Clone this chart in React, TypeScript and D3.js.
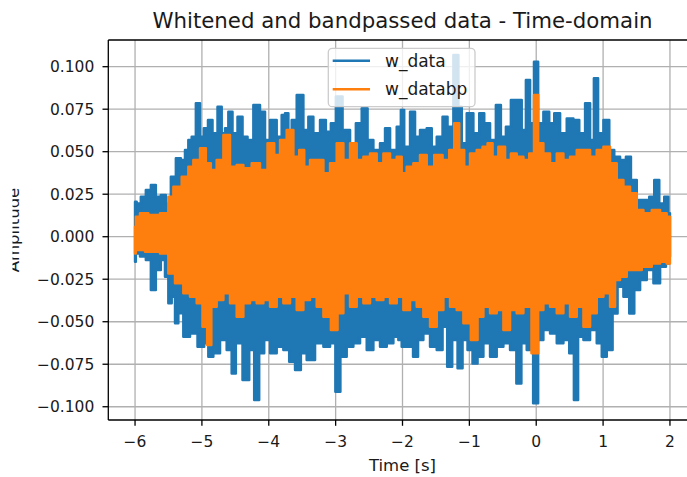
import React from "react";
import * as d3 from "d3";

const title = "Whitened and bandpassed data - Time-domain";
const xLabel = "Time [s]";
const yLabel = "Amplitude";
const seriesNames = ["w_data", "w_databp"];
const xTicks = [-6, -5, -4, -3, -2, -1, 0, 1, 2];
const yTicks = [-0.1, -0.075, -0.05, -0.025, 0, 0.025, 0.05, 0.075, 0.1];

// Envelope of w_data (upper edge), [time s, amplitude]
const blueUpper: [number, number][] = [
  [-6.0, 0.0206], [-5.951, 0.0196], [-5.876, 0.0235], [-5.801, 0.0275], [-5.726, 0.0304],
  [-5.652, 0.0235], [-5.577, 0.0245], [-5.502, 0.0196], [-5.427, 0.0353], [-5.352, 0.0461],
  [-5.278, 0.0451], [-5.228, 0.051], [-5.178, 0.0569], [-5.128, 0.0588], [-5.053, 0.0785],
  [-5.003, 0.0588], [-4.939, 0.0638], [-4.879, 0.0686], [-4.804, 0.0608], [-4.729, 0.0765],
  [-4.679, 0.0608], [-4.629, 0.0638], [-4.58, 0.0735], [-4.505, 0.0608], [-4.43, 0.0706],
  [-4.355, 0.0588], [-4.28, 0.0569], [-4.181, 0.0775], [-4.081, 0.0735], [-4.031, 0.0569],
  [-3.931, 0.0686], [-3.832, 0.0588], [-3.782, 0.0716], [-3.732, 0.0726], [-3.682, 0.0588],
  [-3.632, 0.0686], [-3.532, 0.0834], [-3.433, 0.0628], [-3.383, 0.0706], [-3.283, 0.0608],
  [-3.183, 0.0686], [-3.109, 0.0618], [-3.034, 0.0667], [-2.959, 0.0824], [-2.834, 0.0628],
  [-2.735, 0.051], [-2.66, 0.0667], [-2.56, 0.0755], [-2.485, 0.0569], [-2.386, 0.051],
  [-2.286, 0.0549], [-2.236, 0.0638], [-2.136, 0.051], [-2.037, 0.0647], [-2.012, 0.0745],
  [-1.937, 0.0529], [-1.837, 0.0735], [-1.788, 0.0588], [-1.688, 0.0628], [-1.588, 0.0638],
  [-1.538, 0.0529], [-1.438, 0.0588], [-1.364, 0.0706], [-1.289, 0.0647], [-1.189, 0.1069],
  [-1.139, 0.0765], [-1.089, 0.0549], [-0.99, 0.0726], [-0.89, 0.0608], [-0.815, 0.0726],
  [-0.74, 0.0667], [-0.641, 0.0569], [-0.566, 0.0775], [-0.491, 0.0588], [-0.416, 0.0647],
  [-0.342, 0.0804], [-0.242, 0.0804], [-0.192, 0.0628], [-0.117, 0.0922], [-0.067, 0.0667],
  [0.0, 0.1029], [0.057, 0.0667], [0.157, 0.0735], [0.232, 0.0667], [0.307, 0.0726],
  [0.407, 0.0608], [0.506, 0.0696], [0.606, 0.0686], [0.681, 0.0608], [0.781, 0.0785],
  [0.83, 0.0569], [0.895, 0.0932], [0.955, 0.0608], [1.055, 0.0686], [1.13, 0.051],
  [1.204, 0.0471], [1.304, 0.0451], [1.379, 0.0471], [1.454, 0.0333], [1.553, 0.0216],
  [1.653, 0.0216], [1.728, 0.0235], [1.803, 0.0333], [1.877, 0.0196], [1.952, 0.0235],
  [2.0, 0.0138],
];

// Envelope of w_data (lower edge)
const blueLower: [number, number][] = [
  [-6.0, -0.0147], [-5.976, -0.0098], [-5.876, -0.0117], [-5.801, -0.0137], [-5.726, -0.0314],
  [-5.652, -0.0196], [-5.577, -0.0137], [-5.527, -0.0235], [-5.477, -0.0392], [-5.427, -0.0353],
  [-5.377, -0.0509], [-5.328, -0.045], [-5.228, -0.0588], [-5.128, -0.0569], [-5.003, -0.0647],
  [-4.929, -0.0627], [-4.879, -0.0706], [-4.779, -0.0686], [-4.679, -0.0608], [-4.58, -0.0666],
  [-4.53, -0.0804], [-4.455, -0.0627], [-4.33, -0.0843], [-4.255, -0.0666], [-4.181, -0.0961],
  [-4.106, -0.0686], [-4.031, -0.0608], [-3.931, -0.0686], [-3.832, -0.0647], [-3.732, -0.0666],
  [-3.657, -0.0735], [-3.557, -0.0784], [-3.483, -0.0686], [-3.383, -0.0725], [-3.233, -0.0627],
  [-3.133, -0.0647], [-3.034, -0.0627], [-2.974, -0.0912], [-2.884, -0.0706], [-2.785, -0.0647],
  [-2.685, -0.0627], [-2.585, -0.0588], [-2.485, -0.0666], [-2.386, -0.0608], [-2.286, -0.0647],
  [-2.186, -0.0627], [-2.087, -0.0588], [-2.037, -0.0608], [-1.987, -0.0647], [-1.887, -0.0647],
  [-1.797, -0.0706], [-1.738, -0.0608], [-1.638, -0.0569], [-1.538, -0.0647], [-1.438, -0.0666],
  [-1.364, -0.0529], [-1.299, -0.0765], [-1.214, -0.0608], [-1.139, -0.0774], [-1.065, -0.0608],
  [-0.99, -0.0666], [-0.915, -0.0745], [-0.84, -0.0706], [-0.74, -0.0627], [-0.641, -0.0706],
  [-0.541, -0.0647], [-0.441, -0.0627], [-0.342, -0.0666], [-0.252, -0.0863], [-0.192, -0.0627],
  [-0.092, -0.0666], [0.0, -0.098], [0.057, -0.0608], [0.157, -0.0549], [0.257, -0.0569],
  [0.357, -0.0627], [0.456, -0.0608], [0.531, -0.0686], [0.596, -0.0961], [0.656, -0.0588],
  [0.756, -0.0608], [0.855, -0.0549], [0.955, -0.0627], [1.005, -0.0706], [1.105, -0.0666],
  [1.179, -0.0451], [1.254, -0.0294], [1.354, -0.0353], [1.429, -0.0451], [1.504, -0.0314],
  [1.603, -0.0255], [1.703, -0.0196], [1.803, -0.0274], [1.902, -0.0176], [1.977, -0.0157],
  [2.0, -0.0117],
];

// Envelope of w_databp (upper edge)
const orangeUpper: [number, number][] = [
  [-6.0, 0.0059], [-5.976, 0.0118], [-5.876, 0.0138], [-5.726, 0.0128], [-5.527, 0.0138],
  [-5.477, 0.0235], [-5.377, 0.0294], [-5.228, 0.0353], [-5.178, 0.0412], [-5.078, 0.0451],
  [-4.978, 0.052], [-4.904, 0.0432], [-4.829, 0.0392], [-4.729, 0.0451], [-4.629, 0.0598],
  [-4.53, 0.0412], [-4.43, 0.0422], [-4.33, 0.0402], [-4.181, 0.0432], [-4.081, 0.0392],
  [-3.956, 0.0549], [-3.881, 0.0481], [-3.782, 0.0569], [-3.682, 0.0628], [-3.582, 0.0471],
  [-3.507, 0.051], [-3.433, 0.0412], [-3.333, 0.0451], [-3.233, 0.0451], [-3.133, 0.0373],
  [-3.034, 0.0432], [-2.934, 0.0549], [-2.834, 0.0451], [-2.735, 0.0549], [-2.635, 0.0451],
  [-2.535, 0.0471], [-2.436, 0.049], [-2.336, 0.0432], [-2.236, 0.049], [-2.136, 0.0451],
  [-2.037, 0.0471], [-1.987, 0.0373], [-1.887, 0.0412], [-1.788, 0.0432], [-1.688, 0.048],
  [-1.588, 0.0412], [-1.463, 0.048], [-1.339, 0.0451], [-1.264, 0.051], [-1.189, 0.0667],
  [-1.114, 0.051], [-1.04, 0.0412], [-0.94, 0.049], [-0.84, 0.051], [-0.765, 0.0529],
  [-0.69, 0.0549], [-0.616, 0.0471], [-0.516, 0.0529], [-0.416, 0.0451], [-0.342, 0.049],
  [-0.242, 0.0471], [-0.142, 0.0451], [-0.067, 0.049], [0.0, 0.0834], [0.057, 0.0549],
  [0.157, 0.049], [0.257, 0.0432], [0.357, 0.049], [0.456, 0.0451], [0.556, 0.0471],
  [0.656, 0.051], [0.756, 0.051], [0.855, 0.0471], [0.955, 0.051], [1.055, 0.0529],
  [1.154, 0.0432], [1.254, 0.0333], [1.354, 0.0294], [1.454, 0.0255], [1.553, 0.0157],
  [1.653, 0.0138], [1.803, 0.0157], [1.902, 0.0138], [2.0, 0.0118],
];

// Envelope of w_databp (lower edge)
const orangeLower: [number, number][] = [
  [-6.0, -0.0098], [-5.976, -0.0078], [-5.726, -0.0088], [-5.527, -0.0098], [-5.477, -0.0216],
  [-5.328, -0.0274], [-5.228, -0.0333], [-5.128, -0.0353], [-5.028, -0.0392], [-4.954, -0.0529],
  [-4.889, -0.0637], [-4.829, -0.0412], [-4.729, -0.0372], [-4.629, -0.0333], [-4.53, -0.0392],
  [-4.43, -0.047], [-4.33, -0.0392], [-4.23, -0.0372], [-4.131, -0.0392], [-4.031, -0.0372],
  [-3.931, -0.0412], [-3.832, -0.0353], [-3.732, -0.0392], [-3.632, -0.0353], [-3.532, -0.0431],
  [-3.433, -0.0372], [-3.333, -0.0353], [-3.233, -0.0412], [-3.133, -0.047], [-3.009, -0.0549],
  [-2.934, -0.045], [-2.834, -0.0333], [-2.735, -0.0412], [-2.635, -0.0353], [-2.535, -0.0392],
  [-2.436, -0.0353], [-2.336, -0.0372], [-2.236, -0.0353], [-2.136, -0.0392], [-2.037, -0.0353],
  [-1.937, -0.0431], [-1.837, -0.0372], [-1.738, -0.0412], [-1.638, -0.047], [-1.538, -0.0529],
  [-1.438, -0.0431], [-1.339, -0.0353], [-1.239, -0.0412], [-1.139, -0.0431], [-1.04, -0.0509],
  [-0.915, -0.0608], [-0.84, -0.047], [-0.74, -0.0412], [-0.641, -0.045], [-0.541, -0.0431],
  [-0.441, -0.0549], [-0.342, -0.0431], [-0.242, -0.045], [-0.142, -0.0412], [0.0, -0.0686],
  [0.057, -0.0431], [0.157, -0.0392], [0.257, -0.0412], [0.357, -0.045], [0.456, -0.0392],
  [0.556, -0.047], [0.656, -0.0412], [0.756, -0.0529], [0.855, -0.045], [0.955, -0.0353],
  [1.055, -0.0333], [1.154, -0.0412], [1.204, -0.0255], [1.304, -0.0235], [1.404, -0.0196],
  [1.504, -0.0196], [1.653, -0.0176], [1.803, -0.0157], [1.902, -0.0147], [2.0, -0.0157],
];

const BLUE = "#1f77b4";
const ORANGE = "#ff7f0e";
const FONT = "DejaVu Sans, Verdana, sans-serif";

export default function App() {
  const W = 687;
  const H = 477;
  const left = 108.3;
  const right = 696.7;
  const top = 40;
  const bottom = 420;

  const x = d3.scaleLinear().domain([-6.4, 2.4]).range([left, right]);
  const y = d3.scaleLinear().domain([-0.1078, 0.1157]).range([bottom, top]);

  const edge = d3
    .line<[number, number]>()
    .x((d) => x(d[0]))
    .y((d) => y(d[1]))
    .curve(d3.curveStep);

  const band = (up: [number, number][], lo: [number, number][]) => {
    const a = edge(up) || "";
    const b = (edge(lo.slice().reverse()) || "").replace(/^M/, "L");
    return a + b + "Z";
  };

  const fmtY = d3.format(".3f");
  const fmtX = d3.format("d");

  const tickFont = 15.5;
  const ink = "#1a1a1a";

  return (
    <svg
      width={W}
      height={H}
      style={{ position: "absolute", left: 0, top: 0, background: "#fff" }}
      fontFamily={FONT}
    >
      <defs>
        <clipPath id="plot">
          <rect x={left} y={top} width={right - left} height={bottom - top} />
        </clipPath>
        <clipPath id="ylab">
          <rect x={12.5} y={0} width={40} height={H} />
        </clipPath>
      </defs>
      <rect x={0} y={0} width={W} height={H} fill="#fff" />

      {/* grid */}
      <g stroke="#b0b0b0" strokeWidth={1.3}>
        {xTicks.map((t) => (
          <line key={"gx" + t} x1={x(t)} x2={x(t)} y1={top} y2={bottom} />
        ))}
        {yTicks.map((t) => (
          <line key={"gy" + t} x1={left} x2={right} y1={y(t)} y2={y(t)} />
        ))}
      </g>

      {/* data */}
      <g clipPath="url(#plot)">
        <path
          d={band(blueUpper, blueLower)}
          fill={BLUE}
          stroke={BLUE}
          strokeWidth={2.5}
          strokeLinejoin="round"
        />
        <path
          d={band(orangeUpper, orangeLower)}
          fill={ORANGE}
          stroke={ORANGE}
          strokeWidth={2.5}
          strokeLinejoin="round"
        />
      </g>

      {/* spines */}
      <g stroke="#000" strokeWidth={1.3} fill="none">
        <line x1={left} x2={left} y1={top} y2={bottom} />
        <line x1={left} x2={right} y1={bottom} y2={bottom} />
        <line x1={left} x2={right} y1={top} y2={top} />
        <line x1={right} x2={right} y1={top} y2={bottom} />
      </g>

      {/* x ticks */}
      <g>
        {xTicks.map((t) => (
          <g key={"xt" + t} transform={`translate(${x(t)},${bottom})`}>
            <line y1={0} y2={5.8} stroke="#000" strokeWidth={1.3} />
            <text y={26.5} textAnchor="middle" fontSize={tickFont} fill={ink}>
              {fmtX(t)}
            </text>
          </g>
        ))}
      </g>

      {/* y ticks */}
      <g>
        {yTicks.map((t) => (
          <g key={"yt" + t} transform={`translate(${left},${y(t)})`}>
            <line x1={-5.8} x2={0} stroke="#000" strokeWidth={1.3} />
            <text
              x={-14}
              dy="0.36em"
              textAnchor="end"
              fontSize={tickFont}
              fill={ink}
            >
              {fmtY(t)}
            </text>
          </g>
        ))}
      </g>

      {/* labels */}
      <text
        x={(left + right) / 2}
        y={471}
        textAnchor="middle"
        fontSize={16.5}
        fill={ink}
      >
        {xLabel}
      </text>
      <g clipPath="url(#ylab)">
        <text
          transform={`translate(19,${(top + bottom) / 2}) rotate(-90)`}
          textAnchor="middle"
          fontSize={16.5}
          fill={ink}
        >
          {yLabel}
        </text>
      </g>
      <text
        x={(left + right) / 2}
        y={28}
        textAnchor="middle"
        fontSize={21.3}
        fill={ink}
      >
        {title}
      </text>

      {/* legend */}
      <g>
        <rect
          x={328.3}
          y={48.3}
          width={146.7}
          height={58.4}
          rx={4}
          fill="#fff"
          fillOpacity={0.8}
          stroke="#cccccc"
          strokeWidth={1.3}
        />
        {seriesNames.map((name, i) => {
          const cy = 60.7 + i * 28.6;
          return (
            <g key={name}>
              <line
                x1={332.7}
                x2={370}
                y1={cy}
                y2={cy}
                stroke={i === 0 ? BLUE : ORANGE}
                strokeWidth={2.5}
              />
              <text x={385} y={cy + 6} fontSize={17} fill={ink}>
                {name}
              </text>
            </g>
          );
        })}
      </g>
    </svg>
  );
}
